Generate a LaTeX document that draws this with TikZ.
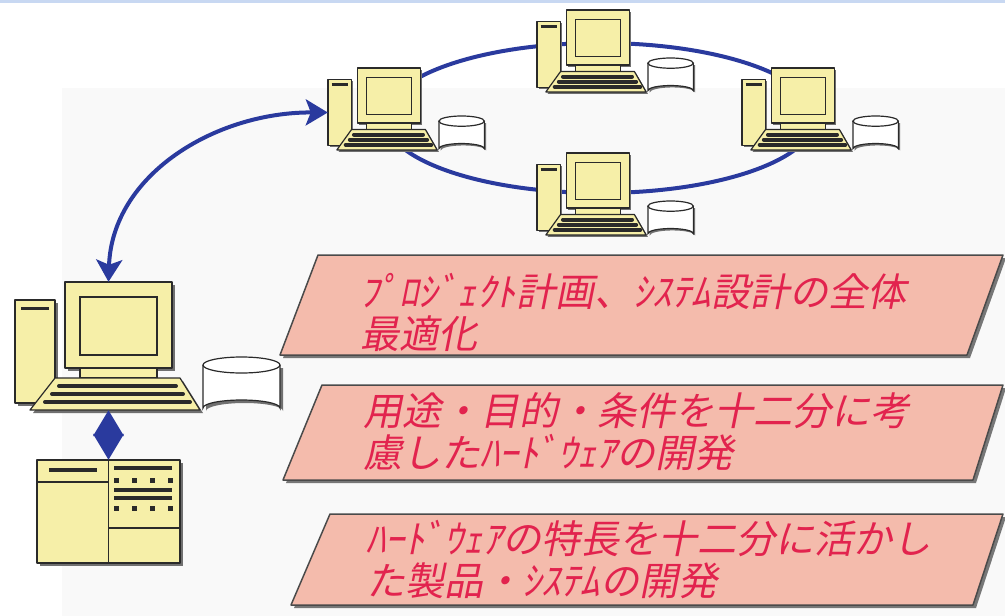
\documentclass[tikz,border=0pt]{standalone}
\usepackage{fontspec}
\newfontfamily\jpfont[FakeSlant=0.2]{Noto Sans CJK JP}
\usetikzlibrary{arrows.meta,shapes.geometric}
\definecolor{pcfill}{HTML}{F6EFA8}
\definecolor{pcline}{HTML}{2A2A2A}
\definecolor{pcshadow}{HTML}{707070}
\definecolor{netblue}{HTML}{2A3A9E}
\definecolor{boxfill}{HTML}{F4BBAC}
\definecolor{boxline}{HTML}{4A4A4A}
\definecolor{boxtext}{HTML}{E2234E}
\definecolor{topline}{HTML}{C8D8F2}

\tikzset{
  body/.style={fill=pcfill, draw=pcline, line width=1.2pt, line join=round},
  shd/.style={fill=pcshadow},
  keyrow/.style={draw=pcline, line width=4pt, line cap=round},
  bar/.style={draw=pcline, line width=3.2pt},
  disk/.style={fill=white, draw=pcline, line width=1.2pt},
  hit/.style={inner sep=0pt, draw=none},
  link/.style={draw=netblue, line width=4pt,
    {Stealth[length=22pt,width=26pt,inset=5pt]}-{Stealth[length=22pt,width=26pt,inset=5pt]}},
  joint/.style={draw=netblue, line width=4pt,
    {Stealth[length=26pt,width=30pt,inset=0pt]}-{Stealth[length=26pt,width=30pt,inset=0pt]}},
  plate/.style={fill=boxfill, draw=boxline, line width=1.5pt, line join=round},
  plateshadow/.style={fill=boxline!75},
  caption/.style={text=boxtext, font=\jpfont\fontsize{39}{42}\selectfont,
    align=left, anchor=west, inner sep=0pt},
  % desktop computer with tower, monitor, keyboard and disk drive
  pics/pc/.style={code={
    \fill[shd] (3,21) rectangle (43,124);
    \filldraw[body] (0,18) rectangle (40,121);
    \draw[pcline, line width=3pt] (6,26) -- (34,26);
    \fill[shd] (53,3) rectangle (160,89);
    \filldraw[body] (50,0) rectangle (157,86);
    \draw[pcline, line width=1.4pt] (65,15) rectangle (142,73);
    \filldraw[body] (65,86) rectangle (142,96);
    \fill[shd] (43,99) -- (168,99) -- (188,131) -- (18,131) -- cycle;
    \filldraw[body] (40,96) -- (165,96) -- (185,128) -- (15,128) -- cycle;
    \draw[keyrow] (44,104) -- (161,104);
    \draw[keyrow] (37,112) -- (168,112);
    \draw[keyrow] (30,120) -- (175,120);
    \fill[shd] (191,86) -- (191,129) arc[start angle=180,end angle=360,x radius=38.5,y radius=8] -- (268,86) -- cycle;
    \filldraw[disk] (188,83) -- (188,126) arc[start angle=180,end angle=360,x radius=38.5,y radius=8] -- (265,83);
    \filldraw[disk] (226.5,83) ellipse[x radius=38.5,y radius=8];
  }},
}

\begin{document}
\begin{tikzpicture}[x=1pt,y=-1pt]
\useasboundingbox (0,0) rectangle (1005,616);
\fill[white] (0,0) rectangle (1005,616);
\fill[black!2.5] (62,88) rectangle (1005,616);
\fill[topline] (0,0) rectangle (1005,3);

% network ring
\node[ellipse, draw=netblue, line width=4pt, minimum width=430pt,
      minimum height=150pt, inner sep=0pt] (ring) at (600,118) {};

% workstations
\pic at (15,282) {pc};
\pic[xscale=.59,yscale=.64] at (328,68) {pc};
\pic[xscale=.59,yscale=.64] at (537,10) {pc};
\pic[xscale=.59,yscale=.64] at (742,68) {pc};
\pic[xscale=.59,yscale=.64] at (537,153) {pc};

% anchors on the icons
\node[hit, minimum width=107pt, minimum height=86pt] (mon0) at (118.5,325) {};
\node[hit, minimum width=170pt, minimum height=32pt] (kb0) at (115,394) {};
\node[hit, minimum width=23.6pt, minimum height=66pt] (towerL) at (339.8,112.5) {};
\node[hit, minimum width=143pt, minimum height=103pt] (mach) at (108.5,511.5) {};

% controller unit
\fill[shd] (40,463) rectangle (183,566);
\filldraw[body] (37,460) rectangle (180,563);
\draw[pcline, line width=1.2pt] (108.5,460) -- (108.5,563);
\draw[pcline, line width=1.2pt] (37,482) -- (108.5,482);
\draw[pcline, line width=1.2pt] (108.5,528) -- (180,528);
\draw[bar] (49,470) -- (97,470);
\draw[bar] (114,468) -- (172,468);
\draw[bar] (114,490) -- (172,490);
\draw[bar] (114,498) -- (172,498);
\foreach \x in {116,134,152,170}{
  \fill[pcline] (\x-2.5,477.5) rectangle (\x+2.5,482.5);
  \fill[pcline] (\x-2.5,505.5) rectangle (\x+2.5,510.5);
}

% connectors
\draw[link] (mach.north |- mon0.north) .. controls (112,175) and (215,112) .. (towerL.west);
\draw[joint] (kb0.south -| mach.north) -- (mach.north);

% caption plates
\foreach \a/\b/\c/\d/\ya/\yb in {318/1003/967/280/255/355,322/1003/973/283/385/480,330/1003/973/291/514/605}{
  \fill[plateshadow] (\a+3,\ya+3) -- (\b+3,\ya+3) -- (\c+3,\yb+3) -- (\d+3,\yb+3) -- cycle;
  \draw[plate] (\a,\ya) -- (\b,\ya) -- (\c,\yb) -- (\d,\yb) -- cycle;
}
\node[caption] (c1) at (360,312) {ﾌﾟﾛｼﾞｪｸﾄ計画、ｼｽﾃﾑ設計の全体\\最適化};
\node[caption] (c2) at (363,432) {用途・目的・条件を十二分に考\\慮したﾊｰﾄﾞｳｪｱの開発};
\node[caption] (c3) at (366,560) {ﾊｰﾄﾞｳｪｱの特長を十二分に活かし\\た製品・ｼｽﾃﾑの開発};
\end{tikzpicture}
\end{document}
